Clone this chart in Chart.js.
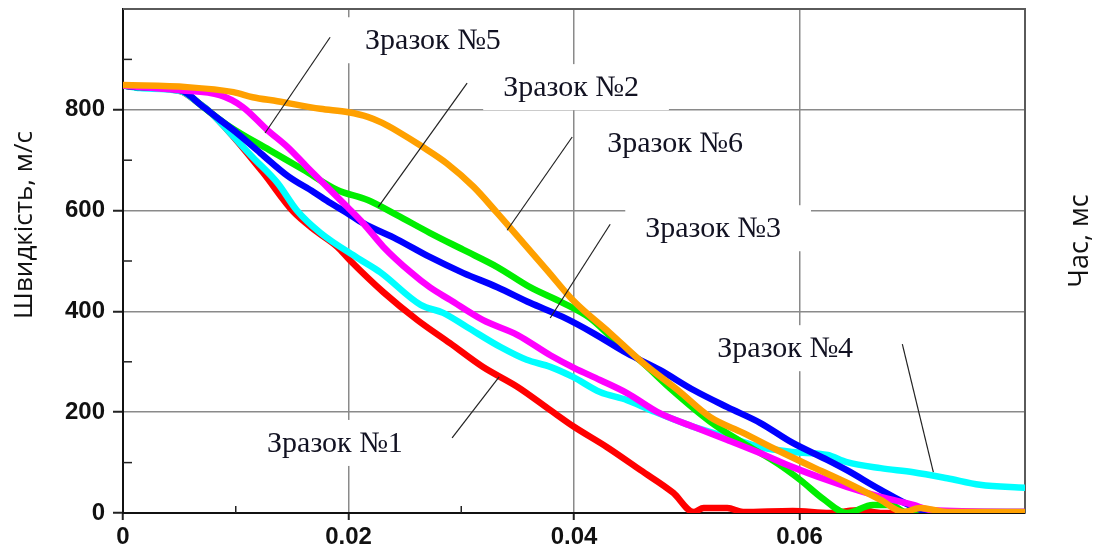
<!DOCTYPE html>
<html>
<head>
<meta charset="utf-8">
<script src="https://cdn.jsdelivr.net/npm/chart.js@4.4.1/dist/chart.umd.min.js"></script>
<style>
html,body{margin:0;padding:0;background:#fff;}
#wrap{width:1099px;height:546px;position:relative;}
</style>
</head>
<body>
<div id="wrap"><canvas id="c" width="1099" height="546"></canvas></div>
<script>
// ---------- DATA ----------
const seriesNames = ['Зразок №1', 'Зразок №2', 'Зразок №3', 'Зразок №4', 'Зразок №5', 'Зразок №6'];

// Зразок №1 (red)
const time1 = [0, 0.0015, 0.0051, 0.0066, 0.0077, 0.0095, 0.0124, 0.0151, 0.0172, 0.0190, 0.0201, 0.0231, 0.0261, 0.0290, 0.0319, 0.0350, 0.0379, 0.0400, 0.0429, 0.0459, 0.0488, 0.0506, 0.0515, 0.0536, 0.0550, 0.0594, 0.0627, 0.0654, 0.0672, 0.0800];
const speed1 = [848, 845, 837, 815, 796, 754, 676, 598, 558, 528, 502, 438, 383, 337, 290, 250, 204, 171, 131, 85, 40, 2, 10, 10, 2, 4, 0, 6, 0, 0];

// Зразок №2 (green)
const time2 = [0, 0.0015, 0.0051, 0.0071, 0.0095, 0.0130, 0.0160, 0.0190, 0.0217, 0.0243, 0.0272, 0.0302, 0.0332, 0.0361, 0.0390, 0.0414, 0.0435, 0.0461, 0.0485, 0.0521, 0.0550, 0.0580, 0.0601, 0.0621, 0.0642, 0.0665, 0.0681, 0.0694, 0.0800];
const speed2 = [848, 845, 839, 806, 766, 720, 681, 641, 621, 591, 556, 522, 488, 448, 417, 387, 345, 298, 248, 181, 139, 99, 65, 28, 0, 16, 16, 2, 0];

// Зразок №3 (blue)
const time3 = [0, 0.0015, 0.0051, 0.0071, 0.0086, 0.0101, 0.0122, 0.0146, 0.0169, 0.0184, 0.0199, 0.0213, 0.0243, 0.0272, 0.0302, 0.0332, 0.0361, 0.0390, 0.0417, 0.0447, 0.0476, 0.0506, 0.0536, 0.0565, 0.0594, 0.0625, 0.0642, 0.0672, 0.0701, 0.0716, 0.0800];
const speed3 = [848, 845, 839, 806, 780, 754, 714, 669, 637, 615, 595, 575, 543, 508, 476, 448, 417, 389, 357, 317, 284, 244, 210, 179, 139, 105, 85, 46, 12, 2, 2];

// Зразок №4 (cyan)
const time4 = [0, 0.0015, 0.0051, 0.0066, 0.0077, 0.0095, 0.0115, 0.0137, 0.0154, 0.0175, 0.0208, 0.0228, 0.0264, 0.0284, 0.0305, 0.0335, 0.0358, 0.0379, 0.0399, 0.0423, 0.0447, 0.0468, 0.0506, 0.0536, 0.0565, 0.0594, 0.0625, 0.0642, 0.0672, 0.0701, 0.0731, 0.0760, 0.0800];
const speed4 = [848, 843, 837, 815, 796, 754, 706, 655, 601, 556, 506, 478, 413, 397, 369, 329, 304, 290, 270, 240, 224, 204, 171, 151, 131, 121, 115, 101, 89, 81, 69, 56, 50];

// Зразок №5 (magenta)
const time5 = [0, 0.0015, 0.0051, 0.0086, 0.0106, 0.0128, 0.0146, 0.0163, 0.0181, 0.0199, 0.0213, 0.0231, 0.0255, 0.0272, 0.0290, 0.0319, 0.0350, 0.0379, 0.0400, 0.0423, 0.0447, 0.0476, 0.0506, 0.0536, 0.0565, 0.0594, 0.0625, 0.0642, 0.0672, 0.0701, 0.0716, 0.0800];
const speed5 = [848, 845, 839, 829, 806, 760, 726, 687, 647, 607, 575, 528, 478, 448, 423, 383, 353, 313, 288, 264, 238, 198, 171, 145, 119, 91, 65, 52, 32, 16, 6, 2];

// Зразок №6 (orange)
const time6 = [0, 0.0057, 0.0098, 0.0115, 0.0137, 0.0175, 0.0200, 0.0217, 0.0230, 0.0243, 0.0266, 0.0287, 0.0311, 0.0332, 0.0355, 0.0376, 0.0400, 0.0432, 0.0461, 0.0492, 0.0521, 0.0550, 0.0580, 0.0612, 0.0642, 0.0672, 0.0692, 0.0707, 0.0731, 0.0800];
const speed6 = [849, 845, 835, 825, 817, 802, 795, 786, 774, 758, 726, 694, 647, 595, 536, 482, 420, 357, 298, 244, 190, 159, 125, 91, 60, 26, 2, 10, 2, 2];

// Axis ticks
const xTickValues = [0, 0.01, 0.02, 0.03, 0.04, 0.05, 0.06, 0.07, 0.08];
const xLabelValues = [0, 0.02, 0.04, 0.06];
const xLabelTexts = ['0', '0.02', '0.04', '0.06'];
const yTickValues = [0, 100, 200, 300, 400, 500, 600, 700, 800, 900, 1000];
const yLabelValues = [0, 200, 400, 600, 800];
const yLabelTexts = ['0', '200', '400', '600', '800'];

const yTitle = 'Швидкість, м/с';
const xTitle = 'Час, мс';

// ---------- STYLE / LAYOUT ----------
const colors = ['#ff0000', '#00ee00', '#0000ff', '#00ffff', '#ff00ff', '#ffa000'];
const drawOrder = [5, 3, 2, 4, 1, 0];

// annotation placement in data units (text left/center, leader start, leader end)
const annoLayout = [
  { text: [0.01278, 139], from: [0.02919, 149], to: [0.03336, 270] }, // №1
  { text: [0.03372, 845], from: [0.03052, 853], to: [0.02263, 607] }, // №2
  { text: [0.04632, 565], from: [0.04321, 573], to: [0.03789, 387] }, // №3
  { text: [0.05271, 327], from: [0.06912, 335], to: [0.07187, 81] },  // №4
  { text: [0.02147, 938], from: [0.01837, 944], to: [0.0126, 754] },  // №5
  { text: [0.04295, 734], from: [0.03984, 746], to: [0.03407, 561] }  // №6
];

const times = [time1, time2, time3, time4, time5, time6];
const speeds = [speed1, speed2, speed3, speed4, speed5, speed6];

const datasets = seriesNames.map((name, i) => ({
  label: name,
  data: times[i].map((t, k) => ({ x: t, y: speeds[i][k] })),
  borderColor: colors[i],
  backgroundColor: colors[i],
  borderWidth: 6.5,
  pointRadius: 0,
  fill: false,
  cubicInterpolationMode: 'monotone',
  borderCapStyle: 'round',
  borderJoinStyle: 'round',
  order: drawOrder[i]
}));

const near = (a, b) => Math.abs(a - b) < 1e-9;
const isXLabel = v => xLabelValues.some(u => near(u, v));
const isYLabel = v => yLabelValues.some(u => near(u, v));

const extrasPlugin = {
  id: 'extras',
  beforeDatasetsDraw(chart) {
    const { ctx, chartArea: a, scales: { x, y } } = chart;
    ctx.save();
    // minor ticks inside
    ctx.strokeStyle = '#222';
    ctx.lineWidth = 1.5;
    xTickValues.forEach(v => {
      if (isXLabel(v) || near(v, 0.08)) return;
      const px = x.getPixelForValue(v);
      ctx.beginPath(); ctx.moveTo(px, a.bottom); ctx.lineTo(px, a.bottom - 7); ctx.stroke();
    });
    yTickValues.forEach(v => {
      if (isYLabel(v) || v === 1000) return;
      const py = y.getPixelForValue(v);
      ctx.beginPath(); ctx.moveTo(a.left, py); ctx.lineTo(a.left + 9, py); ctx.stroke();
    });
    // top / right frame
    ctx.strokeStyle = '#5a5a5a';
    ctx.lineWidth = 2;
    ctx.beginPath();
    ctx.moveTo(a.left, a.top); ctx.lineTo(a.right, a.top); ctx.lineTo(a.right, a.bottom);
    ctx.stroke();
    // label boxes + texts
    ctx.font = '30px "Liberation Serif", "Times New Roman", serif';
    ctx.textBaseline = 'middle';
    ctx.textAlign = 'left';
    annoLayout.forEach((an, i) => {
      const tx = x.getPixelForValue(an.text[0]);
      const ty = y.getPixelForValue(an.text[1]);
      const w = ctx.measureText(seriesNames[i]).width;
      ctx.fillStyle = '#ffffff';
      ctx.fillRect(tx - 20, ty - 23, w + 50, 46);
      ctx.fillStyle = '#121222';
      ctx.fillText(seriesNames[i], tx, ty + 1);
    });
    ctx.restore();
  },
  afterDatasetsDraw(chart) {
    const { ctx, scales: { x, y } } = chart;
    ctx.save();
    ctx.strokeStyle = '#222';
    ctx.lineWidth = 1.2;
    annoLayout.forEach(an => {
      ctx.beginPath();
      ctx.moveTo(x.getPixelForValue(an.from[0]), y.getPixelForValue(an.from[1]));
      ctx.lineTo(x.getPixelForValue(an.to[0]), y.getPixelForValue(an.to[1]));
      ctx.stroke();
    });
    ctx.restore();
  },
  afterDraw(chart) {
    const { ctx } = chart;
    ctx.save();
    ctx.fillStyle = '#111';
    ctx.font = '26px "Open Sans", "Noto Sans", sans-serif';
    ctx.textAlign = 'center';
    ctx.textBaseline = 'alphabetic';
    ctx.translate(32, 225);
    ctx.rotate(-Math.PI / 2);
    ctx.fillText(yTitle, 0, 0);
    ctx.restore();
    ctx.save();
    ctx.fillStyle = '#111';
    ctx.font = '27px "Open Sans", "Noto Sans", sans-serif';
    ctx.textAlign = 'center';
    ctx.textBaseline = 'alphabetic';
    ctx.translate(1088, 241);
    ctx.rotate(-Math.PI / 2);
    ctx.fillText(xTitle, 0, 0);
    ctx.restore();
  }
};

new Chart(document.getElementById('c'), {
  type: 'line',
  data: { datasets },
  plugins: [extrasPlugin],
  options: {
    responsive: false,
    animation: false,
    devicePixelRatio: 1,
    layout: { padding: { left: 0, right: 74, top: 9, bottom: 0 } },
    plugins: { legend: { display: false }, tooltip: { enabled: false } },
    scales: {
      x: {
        type: 'linear',
        min: 0, max: 0.08,
        afterBuildTicks: s => { s.ticks = xTickValues.map(v => ({ value: v })); },
        afterFit: s => { s.height = 33; s.paddingLeft = 0; s.paddingRight = 0; },
        ticks: {
          autoSkip: false,
          maxRotation: 0,
          padding: 3,
          color: '#111',
          font: { family: '"Liberation Sans", Arial, sans-serif', size: 24, weight: 'bold' },
          callback: v => { const k = xLabelValues.findIndex(u => near(u, v)); return k >= 0 ? xLabelTexts[k] : ''; }
        },
        grid: {
          color: c => (isXLabel(c.tick.value) && c.tick.value > 0) ? '#8a8a8a' : 'rgba(0,0,0,0)',
          lineWidth: 1.5,
          tickLength: 7,
          tickColor: c => isXLabel(c.tick.value) ? '#222' : 'rgba(0,0,0,0)',
          tickWidth: 2
        },
        border: { display: true, color: '#111', width: 2 }
      },
      y: {
        type: 'linear',
        min: 0, max: 1000,
        afterBuildTicks: s => { s.ticks = yTickValues.map(v => ({ value: v })); },
        afterFit: s => { s.width = 123; s.paddingTop = 0; s.paddingBottom = 0; },
        ticks: {
          autoSkip: false,
          padding: 8,
          color: '#111',
          font: { family: '"Liberation Sans", Arial, sans-serif', size: 24, weight: 'bold' },
          callback: v => { const k = yLabelValues.indexOf(v); return k >= 0 ? yLabelTexts[k] : ''; }
        },
        grid: {
          color: c => (isYLabel(c.tick.value) && c.tick.value > 0) ? '#8a8a8a' : 'rgba(0,0,0,0)',
          lineWidth: 1.5,
          tickLength: 10,
          tickColor: c => isYLabel(c.tick.value) ? '#222' : 'rgba(0,0,0,0)',
          tickWidth: 2
        },
        border: { display: true, color: '#111', width: 2 }
      }
    }
  }
});
</script>
</body>
</html>
